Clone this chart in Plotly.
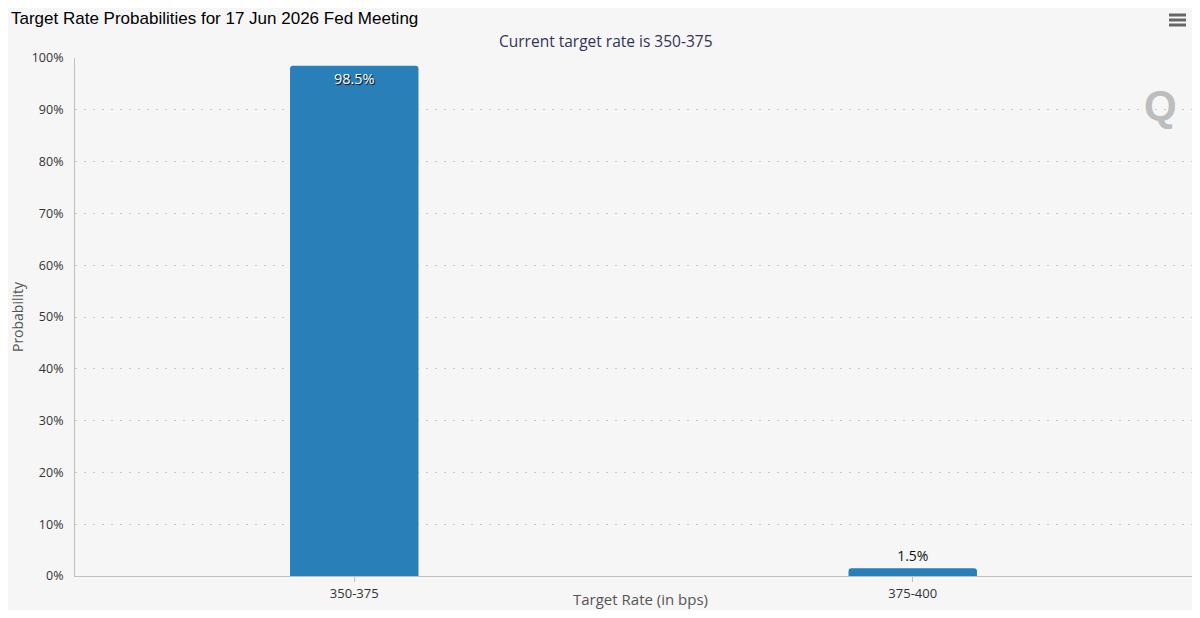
import plotly.graph_objects as go

# target rate buckets (bps) and their probabilities (%)
rate_buckets = ["350-375", "375-400"]
probabilities = [98.5, 1.5]
bar_labels = ["98.5%", "1.5%"]
y_ticks = [0, 10, 20, 30, 40, 50, 60, 70, 80, 90, 100]
y_tick_labels = [str(v) + "%" for v in y_ticks]

chart_title = "Target Rate Probabilities for 17 Jun 2026 Fed Meeting"
sub_title = "Current target rate is 350-375"
x_title = "Target Rate (in bps)"
y_title = "Probability"

axis_font = "Open Sans, DejaVu Sans, sans-serif"

# page has an 8px body margin, so the figure is sized to fit inside it
W, H = 1184, 602
ML, MR, MT, MB = 67, 0, 50, 34
PW, PH = W - ML - MR, H - MT - MB


def px(x):
    # figure pixel -> paper x
    return (x - ML) / PW


def py(y):
    # figure pixel (from top) -> paper y
    return 1 - (y - MT) / PH


fig = go.Figure()
fig.add_trace(go.Bar(
    x=rate_buckets,
    y=probabilities,
    text=bar_labels,
    textposition="auto",
    insidetextanchor="end",
    insidetextfont=dict(color="white", size=14.5, family=axis_font,
                        shadow="1px 1px 1px #000"),
    outsidetextfont=dict(color="#111", size=14, family=axis_font),
    textangle=0,
    marker=dict(color="#2980b9", cornerradius=3, line=dict(width=0)),
    hoverinfo="x+y",
))

# export-menu icon (three bars)
shapes = []
for yy in (7, 12, 17):
    shapes.append(dict(type="line", xref="paper", yref="paper",
                       x0=px(1161), x1=px(1178), y0=py(yy), y1=py(yy),
                       line=dict(color="#666", width=3)))

fig.update_layout(
    width=W, height=H,
    paper_bgcolor="#f6f6f6",
    plot_bgcolor="#f6f6f6",
    margin=dict(l=ML, r=MR, t=MT, b=MB),
    bargap=0.77,
    showlegend=False,
    shapes=shapes,
    xaxis=dict(
        automargin=False,
        showline=True, linecolor="#c0c0c0", linewidth=1,
        ticks="outside", tickcolor="#c0c0c0", ticklen=5,
        tickfont=dict(size=13, color="#333", family=axis_font),
    ),
    yaxis=dict(
        automargin=False,
        range=[0, 100],
        tickvals=y_ticks, ticktext=y_tick_labels,
        showline=True, linecolor="#c0c0c0", linewidth=1,
        showgrid=True, gridcolor="#c8c8c8", griddash="2px,7px", gridwidth=1,
        zeroline=False,
        ticks="",
        ticklabelstandoff=8,
        tickfont=dict(size=12.5, color="#333", family=axis_font),
        title=dict(text=y_title, standoff=4,
                   font=dict(size=14, color="#555", family=axis_font)),
    ),
    annotations=[
        dict(text=chart_title, xref="paper", yref="paper",
             x=px(2), y=1 + MT / PH, xanchor="left", yanchor="top",
             showarrow=False, borderpad=0,
             font=dict(size=17, color="#000", family="Liberation Sans, Arial, sans-serif")),
        dict(text=sub_title, xref="paper", yref="paper",
             x=px(598), y=py(33), xanchor="center", yanchor="middle",
             showarrow=False,
             font=dict(size=15.5, color="#333355", family=axis_font)),
        dict(text=x_title, xref="paper", yref="paper",
             x=px(632), y=-MB / PH, xanchor="center", yanchor="bottom",
             showarrow=False, borderpad=0,
             font=dict(size=15, color="#555", family=axis_font)),
        dict(text="<b>Q</b>", xref="paper", yref="paper",
             x=px(1152), y=py(97), xanchor="center", yanchor="middle",
             showarrow=False,
             font=dict(size=42, color="#bdbdbd", family="Liberation Sans, Arial, sans-serif")),
    ],
)

fig.write_html("out.html")
